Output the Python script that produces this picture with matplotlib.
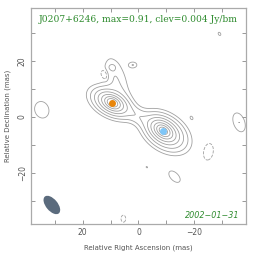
import numpy as np
import matplotlib
matplotlib.use('Agg')
from matplotlib import pyplot as plt
from matplotlib.patches import Ellipse

# infos de la carte
source = 'J0207+6246'
peak = 0.91
clev = 0.004
obs_date = '2002-01-31'

# composantes gaussiennes (RA mas, Dec mas, amplitude Jy/bm, FWHM maj, FWHM min, angle deg)
# coeur bleu (3), coeur orange (3), pont, extension nord, bruit
comp_ra = [-8.9, -8.9, -9.5, 9.3, 9.3, 9.8, 0.3, 8.0, 9.5, 12.3, 2.0, -29.0, 34.6, -36.0, -19.0, -12.9, -3.0, -25.0, 5.4]
comp_dec = [-5.0, -5.0, -5.5, 5.0, 5.0, 5.0, 0.3, 13.5, 17.8, 15.0, 18.5, 29.6, 2.5, -2.0, -0.4, -21.4, -18.0, -12.5, -36.4]
comp_amp = [0.62, 0.25, 0.045, 0.40, 0.15, 0.032, 0.010, 0.008, 0.004, -0.02, 0.008, 0.0065, 0.008, 0.008, 0.0065, 0.008, 0.0048, -0.008, -0.0065]
comp_maj = [3.0, 6.0, 11.5, 3.0, 6.0, 11.0, 10.0, 15.0, 2.5, 2.5, 2.8, 1.5, 6.0, 7.0, 1.5, 5.0, 1.2, 6.0, 3.0]
comp_min = [2.0, 3.8, 7.5, 2.0, 3.6, 6.5, 4.0, 6.5, 2.0, 1.5, 2.0, 1.0, 5.0, 4.0, 1.0, 2.8, 0.8, 3.5, 2.0]
comp_ang = [35, 35, 35, 28, 28, 28, 30, 72, 0, 70, 0, 60, 70, 70, 60, 45, 30, 100, 90]

# positions des composantes du modele (points colores)
dot_ra = [9.3, -8.9]
dot_dec = [5.0, -5.0]
dot_col = ['#e8860c', '#7fc6f7']

# faisceau
beam_ra, beam_dec = 31.0, -31.5
beam_maj, beam_min, beam_ang = 7.8, 4.2, 50

# grille
x = np.linspace(-40, 40, 401)
X, Y = np.meshgrid(x, x)
Z = np.zeros_like(X)
k = 4 * np.log(2)
for ra, de, a, ma, mi, ang in zip(comp_ra, comp_dec, comp_amp, comp_maj, comp_min, comp_ang):
    t = np.deg2rad(ang)
    u = (X - ra) * np.cos(t) + (Y - de) * np.sin(t)
    v = -(X - ra) * np.sin(t) + (Y - de) * np.cos(t)
    Z += a * np.exp(-k * ((u / ma) ** 2 + (v / mi) ** 2))

levels = clev * 2.0 ** np.arange(0, 8)

fig = plt.figure(figsize=(2.64, 2.62), dpi=100)
ax = fig.add_axes([0.117, 0.145, 0.815, 0.824])

ax.contour(X, Y, Z, levels=levels, colors='#a0a0a0', linewidths=0.6)
ax.contour(X, Y, Z, levels=[-clev], colors='#a0a0a0', linewidths=0.6, linestyles='dashed')

for ra, de, c in zip(dot_ra, dot_dec, dot_col):
    ax.plot(ra, de, 'o', color=c, markersize=5, markeredgewidth=0)

ax.add_patch(Ellipse((beam_ra, beam_dec), beam_maj, beam_min, angle=beam_ang,
                     facecolor='#5b6b7d', edgecolor='none'))

ax.set_xlim(38.5, -38.5)
ax.set_ylim(-38.3, 38.8)
ax.set_aspect('auto')

ax.set_xticks([20, 0, -20])
ax.set_xticklabels(['20', '0', '\u221220'])
ax.set_yticks([-20, 0, 20])
ax.set_yticklabels(['\u221220', '0', '20'], rotation=90, va='center')
ax.set_xticks([30, 10, -10, -30], minor=True)
ax.set_yticks([-30, -10, 10, 30], minor=True)
ax.tick_params(which='both', direction='in', top=True, right=True, color='#888888',
               labelcolor='#555555', labelsize=5.5, width=0.6)
ax.tick_params(which='major', length=3, pad=3)
ax.tick_params(which='minor', length=3)
for s in ax.spines.values():
    s.set_color('#aaaaaa')
    s.set_linewidth(0.9)

ax.set_xlabel('Relative Right Ascension (mas)', fontsize=5, color='#555555', labelpad=5)
ax.set_ylabel('Relative Declination (mas)', fontsize=5, color='#555555', labelpad=5)

ax.text(0.5, 0.945, f'{source}, max={peak}, clev={clev} Jy/bm', transform=ax.transAxes,
        ha='center', va='center', fontsize=6.6, family='DejaVu Serif', color='#2e8b2e')
ax.text(0.97, 0.04, obs_date.replace('-', '\u2212'), transform=ax.transAxes, ha='right', va='center',
        fontsize=5.8, style='italic', color='#2e8b2e')

fig.savefig('out.png', dpi=100)
